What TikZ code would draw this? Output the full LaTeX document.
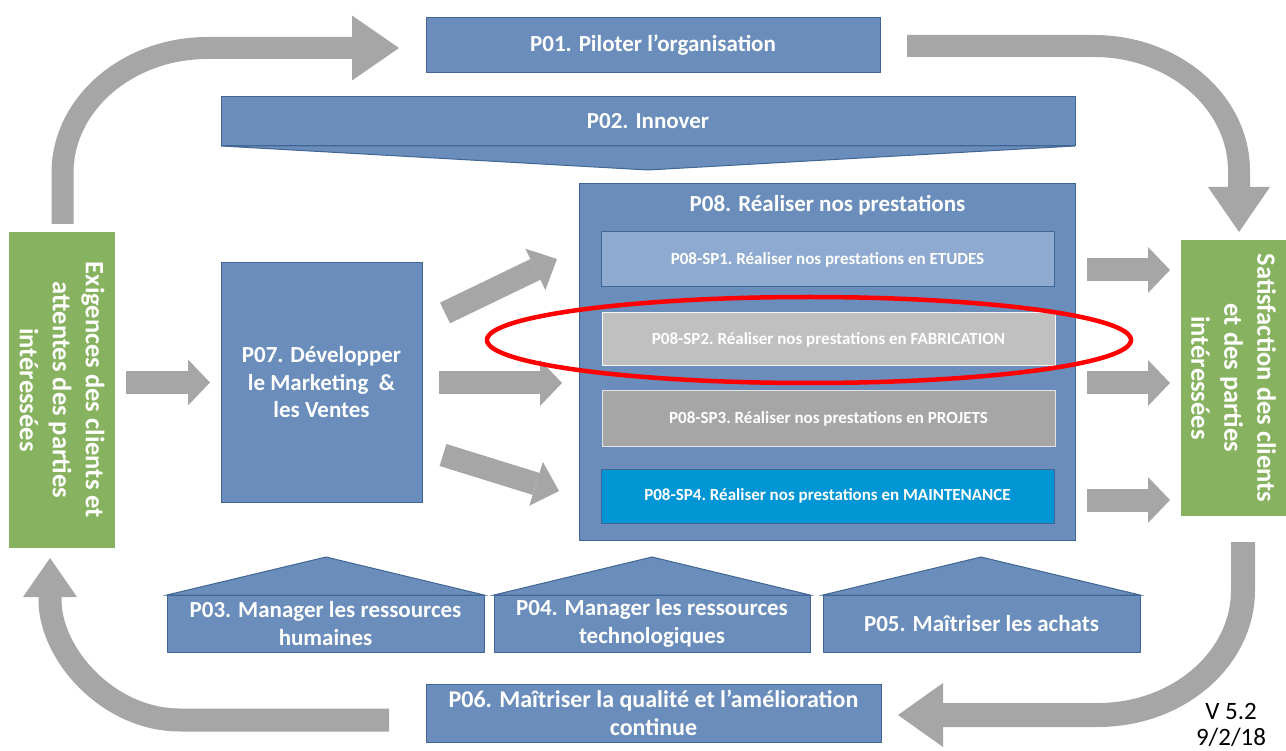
\documentclass[tikz,border=0pt]{standalone}
\usepackage{fontspec}
\setmainfont{Carlito}
\usetikzlibrary{calc}
\definecolor{procblue}{RGB}{106,141,187}
\definecolor{procedge}{RGB}{66,102,148}
\definecolor{sponec}{RGB}{143,170,208}
\definecolor{sptwoc}{RGB}{192,192,192}
\definecolor{spthreec}{RGB}{166,166,166}
\definecolor{spfourc}{RGB}{0,150,214}
\definecolor{grn}{RGB}{135,178,96}
\definecolor{agray}{RGB}{166,166,166}
\newcommand{\blockarrow}[5]{%
  \coordinate (tmpb) at ($(#2)!#4!(#1)$);
  \draw[agray, line width=#3] (#1) -- (tmpb);
  \fill[agray] ($(tmpb)!#5!90:(#2)$) -- (#2) -- ($(tmpb)!#5!-90:(#2)$) -- cycle;
}
\newcommand{\headonly}[3]{%
  \fill[agray] ($(#1)!#3!90:(#2)$) -- (#2) -- ($(#1)!#3!-90:(#2)$) -- cycle;
}
\tikzset{
  proc/.style={draw=procedge, fill=procblue, line width=1, text=white,
    font=\bfseries\fontsize{23}{27.5}\selectfont, align=center, inner sep=0},
  subproc/.style={draw=procedge, line width=1, text=white,
    font=\bfseries\fontsize{17}{20}\selectfont, inner sep=0},
  grnbox/.style={fill=grn, text=white, font=\bfseries\fontsize{26.5}{33}\selectfont,
    align=center, inner sep=0, rotate=-90},
  shaft/.style={draw=agray, line width=22},
  roof/.style={draw=procedge, fill=procblue, line width=1},
}
\begin{document}
\begin{tikzpicture}[x=1pt, y=-1pt]
\useasboundingbox (0,0) rectangle (1286,751);

% ---- curved arrows
\coordinate (aone) at (62.5,224);
\coordinate (aoneb) at (352,48);
\coordinate (aonet) at (399,48);
\draw[shaft] (aone) -- (62.5,173) .. controls (62.5,104) and (127.5,48) .. (207.5,48) -- (aoneb);
\headonly{aoneb}{aonet}{32.5pt}

\coordinate (atwo) at (907,46);
\coordinate (atwob) at (1239,187);
\coordinate (atwot) at (1239,232);
\draw[shaft] (atwo) -- (1094,46) .. controls (1174,46) and (1239,102) .. (1239,171) -- (atwob);
\headonly{atwob}{atwot}{31pt}

\coordinate (athree) at (1243,542);
\coordinate (athreeb) at (943,715);
\coordinate (athreet) at (898,715);
\draw[shaft, line width=24] (athree) -- (1243,590) .. controls (1243,659) and (1178,715) .. (1098,715) -- (athreeb);
\headonly{athreeb}{athreet}{32pt}

\coordinate (afour) at (389,720);
\coordinate (afourb) at (50,597);
\coordinate (afourt) at (50,558);
\draw[shaft, line width=23] (afour) -- (180,720) .. controls (108,720) and (50,654) .. (50,600) -- (afourb);
\headonly{afourb}{afourt}{27pt}

% ---- straight arrows
\coordinate (sones) at (126,382.5);  \coordinate (sonet) at (210,382.5);
\coordinate (stwos) at (439,383);    \coordinate (stwot) at (562,383);
\coordinate (sthrees) at (445,313);  \coordinate (sthreet) at (557,259);
\coordinate (sfours) at (443,455);   \coordinate (sfourt) at (559,491);
\coordinate (rones) at (1087,270);   \coordinate (ronet) at (1170,270);
\coordinate (rtwos) at (1087,383);   \coordinate (rtwot) at (1170,383);
\coordinate (rthrees) at (1087,500); \coordinate (rthreet) at (1170,500);
\blockarrow{sones}{sonet}{23}{22pt}{23pt}
\blockarrow{stwos}{stwot}{23}{22pt}{23pt}
\blockarrow{sthrees}{sthreet}{23}{24pt}{23pt}
\blockarrow{sfours}{sfourt}{23}{24pt}{23pt}
\blockarrow{rones}{ronet}{23}{22pt}{23pt}
\blockarrow{rtwos}{rtwot}{23}{22pt}{23pt}
\blockarrow{rthrees}{rthreet}{23}{22pt}{23pt}

% ---- green boxes
\node[grnbox, minimum width=316, minimum height=106] (exig) at (62,390)
  {Exigences des clients et\\attentes des parties\\intéressées};
\node[grnbox, minimum width=276, minimum height=105] (satis) at (1233.5,378)
  {Satisfaction des clients\\et des parties\\intéressées};

% ---- top processes
\node[proc, minimum width=454, minimum height=55] (pone) at (653,45.5) {P01. Piloter l’organisation};
\draw[roof] (221,146) -- (648,170) -- (1075,146) -- cycle;
\node[proc, minimum width=854, minimum height=49] (ptwo) at (648,121.5) {P02. Innover};

% ---- P07
\node[proc, minimum width=201, minimum height=239] (pseven) at (321.5,382.5)
  {P07. Développer\\le Marketing~~\&\\les Ventes};

% ---- P08
\node[proc, minimum width=496, minimum height=356] (peight) at (827.5,362) {};
\node[text=white, font=\bfseries\fontsize{23}{27}\selectfont, inner sep=0] (peighttitle) at (827.5,205) {P08. Réaliser nos prestations};
\node[subproc, fill=sponec, minimum width=453, minimum height=55] (spone) at (827.5,259.5)
  {P08-SP1.\ Réaliser nos prestations en ETUDES};
\node[subproc, fill=sptwoc, draw=white!85!sptwoc, minimum width=453, minimum height=53] (sptwo) at (828.5,339.5)
  {P08-SP2.\ Réaliser nos prestations en FABRICATION};
\node[subproc, fill=spthreec, draw=white!70!spthreec, minimum width=453, minimum height=55] (spthree) at (828.5,418.5)
  {P08-SP3.\ Réaliser nos prestations en PROJETS};
\node[subproc, fill=spfourc, minimum width=453, minimum height=54] (spfour) at (827.5,496)
  {P08-SP4.\ Réaliser nos prestations en MAINTENANCE};

% ---- highlight ellipse
\draw[red, line width=4.5] (809,340) ellipse [x radius=322, y radius=43];

% ---- support processes
\draw[roof] (167,595) -- (326,557) -- (484,595) -- cycle;
\node[proc, minimum width=317, minimum height=57] (pthree) at (325.5,623.5)
  {P03. Manager les ressources\\humaines};
\draw[roof] (494,595) -- (652,557) -- (810,595) -- cycle;
\node[proc, minimum width=316, minimum height=57] (pfour) at (652,623.5)
  {P04. Manager les ressources\\technologiques};
\draw[roof] (823,595) -- (981,557) -- (1140,595) -- cycle;
\node[proc, minimum width=317, minimum height=57] (pfive) at (981.5,623.5)
  {P05. Maîtriser les achats};

\node[proc, font=\bfseries\fontsize{24}{28}\selectfont, minimum width=455, minimum height=58] (psix) at (653.5,713)
  {P06. Maîtriser la qualité et l’amélioration\\continue};

\node[font=\fontsize{25}{25.5}\selectfont, align=center, inner sep=0] (version) at (1231,725)
  {V 5.2\\9/2/18};
\end{tikzpicture}
\end{document}
